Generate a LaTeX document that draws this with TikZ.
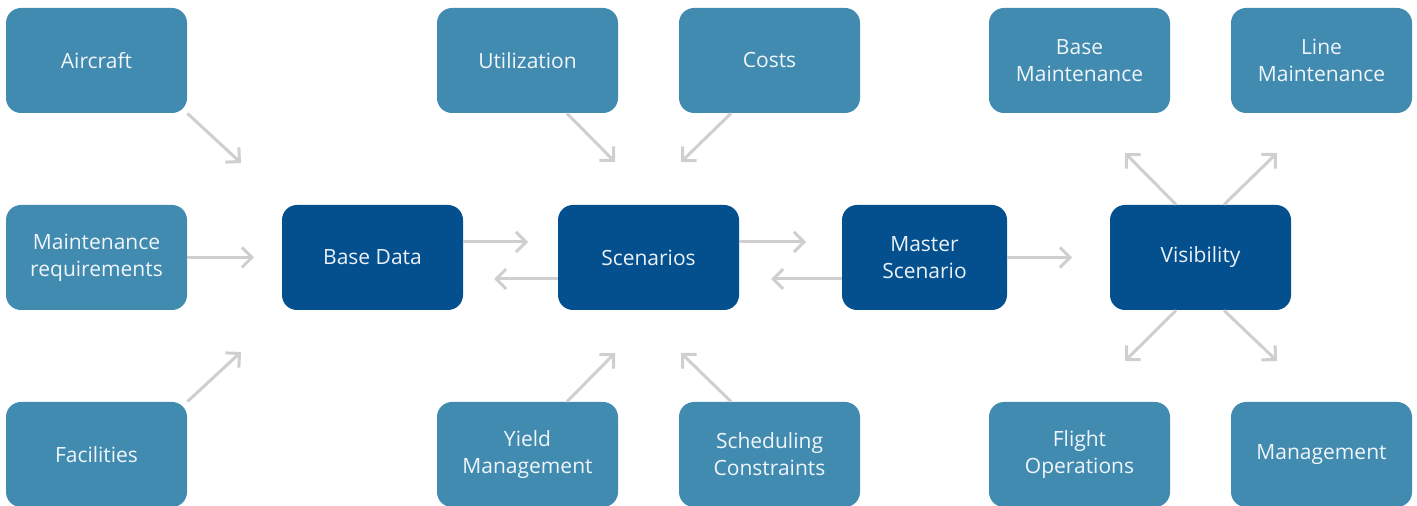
\documentclass[tikz,border=0pt]{standalone}
\usepackage{fontspec}
\setmainfont{Open Sans}
\usetikzlibrary{arrows.meta}
\definecolor{lightblue}{HTML}{418AB0}
\definecolor{darkblue}{HTML}{04508F}
\definecolor{arrowgray}{HTML}{CFCFCF}
\tikzset{
  item/.style={fill=lightblue, text=white!92!lightblue, rounded corners=7.5pt, minimum width=90.5pt,
    minimum height=52.5pt, inner sep=0pt, align=center, font=\fontsize{10.5}{13.5}\selectfont},
  core/.style={item, fill=darkblue, text=white!92!darkblue},
  flow/.style={draw=arrowgray, line width=1.5pt, -{Straight Barb[length=5pt,width=10pt]}}
}

\begin{document}
\begin{tikzpicture}[x=0.5pt,y=-0.5pt]
  \useasboundingbox (0,0) rectangle (1417,506);
  \draw (96.5,60.5) node[item] (aircraft) {Aircraft};
  \draw (96.5,257.5) node[item] (maint) {Maintenance\\requirements};
  \draw (96.5,454.5) node[item] (facilities) {Facilities};

  \draw (372.5,257.5) node[core] (basedata) {Base Data};
  \draw (648.5,257.5) node[core] (scenarios) {Scenarios};
  \draw (924.5,257.5) node[core, minimum width=82.5pt] (master) {Master\\Scenario};
  \draw (1200.5,257.5) node[core] (visibility) {Visibility};

      \draw (527.5,60.5) node[item] (util) {Utilization};
      \draw (769.5,60.5) node[item] (costs) {Costs};
      \draw (527.5,454.5) node[item] (yield) {Yield\\Management};
      \draw (769.5,454.5) node[item] (sched) {Scheduling\\Constraints};

	    \draw (1079.5,60.5) node[item] (basemaint) {Base\\Maintenance};
	    \draw (1321.5,60.5) node[item] (linemaint) {Line\\Maintenance};
	    \draw (1079.5,454.5) node[item] (flightops) {Flight\\Operations};
	    \draw (1321.5,454.5) node[item] (mgmt) {Management};

  \coordinate (aircraft-end) at (241,163);
  \coordinate (maint-end) at (254,257.5);
  \coordinate (facilities-end) at (241,352);
  \coordinate (util-end) at (615,162);
  \coordinate (costs-end) at (681,162);
  \coordinate (yield-end) at (615,353);
  \coordinate (sched-end) at (681,353);
  \coordinate (basedata-end) at (528,242);
  \coordinate (scenarios-back) at (494,279);
  \coordinate (scenarios-end) at (806,242);
  \coordinate (master-back) at (771,279);
  \coordinate (master-end) at (1072,257.5);
  \coordinate (basemaint-end) at (1125,153);
  \coordinate (linemaint-end) at (1277,153);
  \coordinate (flightops-end) at (1125,361);
  \coordinate (mgmt-end) at (1277,361);

    \path (aircraft.south east) edge[flow] (aircraft-end);
    \path (maint.east) edge[flow] (maint-end);
    \path (facilities.north east) edge[flow] (facilities-end);
    \path ([xshift=19.75pt]util.south) edge[flow] (util-end);
    \path ([xshift=-19.25pt]costs.south) edge[flow] (costs-end);
    \path ([xshift=19.75pt]yield.north) edge[flow] (yield-end);
    \path ([xshift=-19.25pt]sched.north) edge[flow] (sched-end);
    \path ([yshift=7.75pt]basedata.east) edge[flow] (basedata-end);
    \path ([yshift=-10.75pt]scenarios.west) edge[flow] (scenarios-back);
    \path ([yshift=7.75pt]scenarios.east) edge[flow] (scenarios-end);
    \path ([yshift=-10.75pt]master.west) edge[flow] (master-back);
    \path (master.east) edge[flow] (master-end);
    \path ([xshift=-12.25pt]visibility.north) edge[flow] (basemaint-end);
    \path ([xshift=11.75pt]visibility.north) edge[flow] (linemaint-end);
    \path ([xshift=-12.25pt]visibility.south) edge[flow] (flightops-end);
    \path ([xshift=11.75pt]visibility.south) edge[flow] (mgmt-end);

\end{tikzpicture}
\end{document}
